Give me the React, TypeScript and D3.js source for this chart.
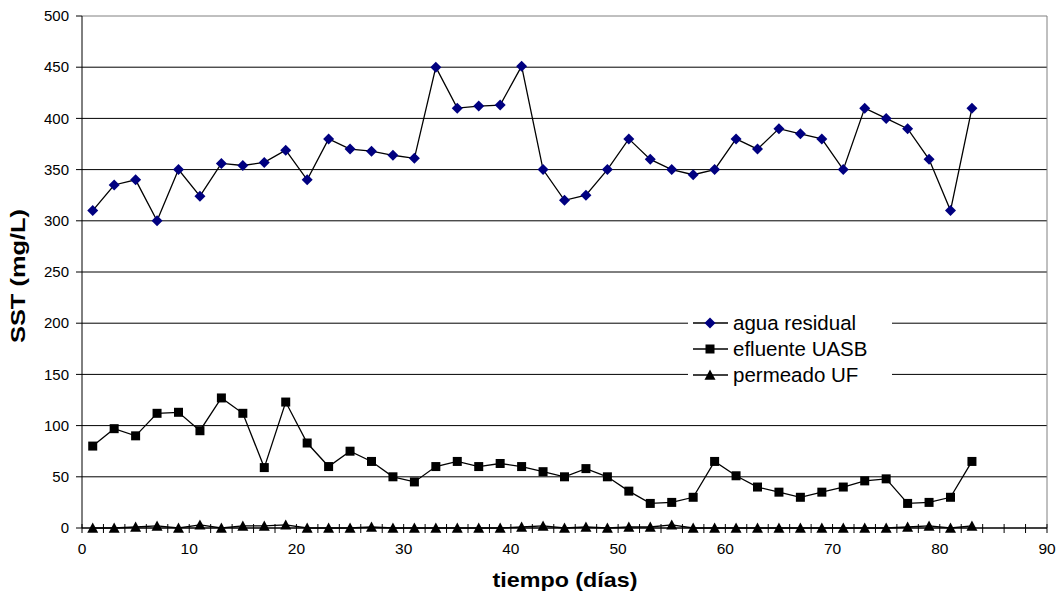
import React from "react";
import * as d3 from "d3";

const days = [1,3,5,7,9,11,13,15,17,19,21,23,25,27,29,31,33,35,37,39,41,43,45,47,49,51,53,55,57,59,61,63,65,67,69,71,73,75,77,79,81,83];
const aguaResidual = [310,335,340,300,350,324,356,354,357,369,340,380,370,368,364,361,450,410,412,413,451,350,320,325,350,380,360,350,345,350,380,370,390,385,380,350,410,400,390,360,310,410];
const efluenteUASB = [80,97,90,112,113,95,127,112,59,123,83,60,75,65,50,45,60,65,60,63,60,55,50,58,50,36,24,25,30,65,51,40,35,30,35,40,46,48,24,25,30,65];
const permeadoUF = [0,0,1,2,0,3,0,2,2,3,0,0,0,1,0,0,0,0,0,0,1,2,0,1,0,1,1,3,0,0,0,0,0,0,0,0,0,0,1,2,0,2];
const xTicks = [0,10,20,30,40,50,60,70,80,90];
const yTicks = [0,50,100,150,200,250,300,350,400,450,500];
const seriesNames = ["agua residual","efluente UASB","permeado UF"];

const W = 1059, H = 599;
const L = 82, R = 1047, T = 16, B = 528;
const font = "'Liberation Sans', Arial, sans-serif";

function Marker({ kind, x, y }: { kind: number; x: number; y: number }) {
  if (kind === 0) {
    const s = 5.5;
    return <path d={`M${x},${y - s}L${x + s},${y}L${x},${y + s}L${x - s},${y}Z`} fill="#000080" />;
  }
  if (kind === 1) {
    const s = 4.5;
    return <rect x={x - s} y={y - s} width={2 * s} height={2 * s} fill="#000" />;
  }
  const s = 5.5;
  return <path d={`M${x},${y - s}L${x + s},${y + s * 0.85}L${x - s},${y + s * 0.85}Z`} fill="#000" />;
}

export default function App() {
  const x = d3.scaleLinear().domain([0, 90]).range([L, R]);
  const y = d3.scaleLinear().domain([0, 500]).range([B, T]);
  const series = [aguaResidual, efluenteUASB, permeadoUF];
  const line = d3.line<[number, number]>().x(d => x(d[0])).y(d => y(d[1]));
  const minor = d3.range(0, 91, 2);

  return (
    <svg width={W} height={H} style={{ position: "absolute", left: 0, top: 0 }} fontFamily={font}>
      <rect x={0} y={0} width={W} height={H} fill="#fff" />
      {yTicks.map(t => (
        <line key={"g" + t} x1={L} x2={R} y1={y(t)} y2={y(t)} stroke={t === 500 ? "#808080" : "#000"} strokeWidth={1} />
      ))}
      <line x1={R} x2={R} y1={T} y2={B} stroke="#808080" />
      {series.map((s, i) => (
        <path key={"l" + i} d={line(days.map((d, j) => [d, s[j]]) as [number, number][]) || ""} fill="none" stroke="#000" strokeWidth={1.3} />
      ))}
      {series.map((s, i) => (
        <g key={"m" + i}>
          {days.map((d, j) => <Marker key={j} kind={i} x={x(d)} y={y(s[j])} />)}
        </g>
      ))}
      <line x1={L} x2={L} y1={T} y2={B} stroke="#000" />
      <line x1={L} x2={R} y1={B} y2={B} stroke="#000" />
      {yTicks.map(t => (
        <g key={"yt" + t}>
          <line x1={L - 6} x2={L} y1={y(t)} y2={y(t)} stroke="#000" />
          <text x={L - 13} y={y(t)} dy="0.35em" textAnchor="end" fontSize={15} fill="#000">{t}</text>
        </g>
      ))}
      {minor.map(t => (
        <line key={"xt" + t} x1={x(t)} x2={x(t)} y1={B - 4} y2={B + 5} stroke="#000" />
      ))}
      {xTicks.map(t => (
        <text key={"xl" + t} x={x(t)} y={B + 21} dy="0.35em" textAnchor="middle" fontSize={15.5} fill="#000">{t}</text>
      ))}
      <text x={18} y={276} transform="rotate(-90 18 276)" textAnchor="middle" dy="0.35em" fontSize={20} fontWeight="bold" textLength={134} lengthAdjust="spacingAndGlyphs">SST (mg/L)</text>
      <text x={565} y={580} textAnchor="middle" dy="0.35em" fontSize={21} fontWeight="bold" textLength={145} lengthAdjust="spacingAndGlyphs">tiempo (días)</text>
      <rect x={688} y={306} width={204} height={86} fill="#fff" />
      {seriesNames.map((n, i) => {
        const ly = 323 + i * 26;
        return (
          <g key={"lg" + i}>
            <line x1={693} x2={728} y1={ly} y2={ly} stroke="#000" strokeWidth={1.3} />
            <Marker kind={i} x={710} y={ly} />
            <text x={733} y={ly} dy="0.35em" fontSize={20.5} fill="#000">{n}</text>
          </g>
        );
      })}
    </svg>
  );
}
